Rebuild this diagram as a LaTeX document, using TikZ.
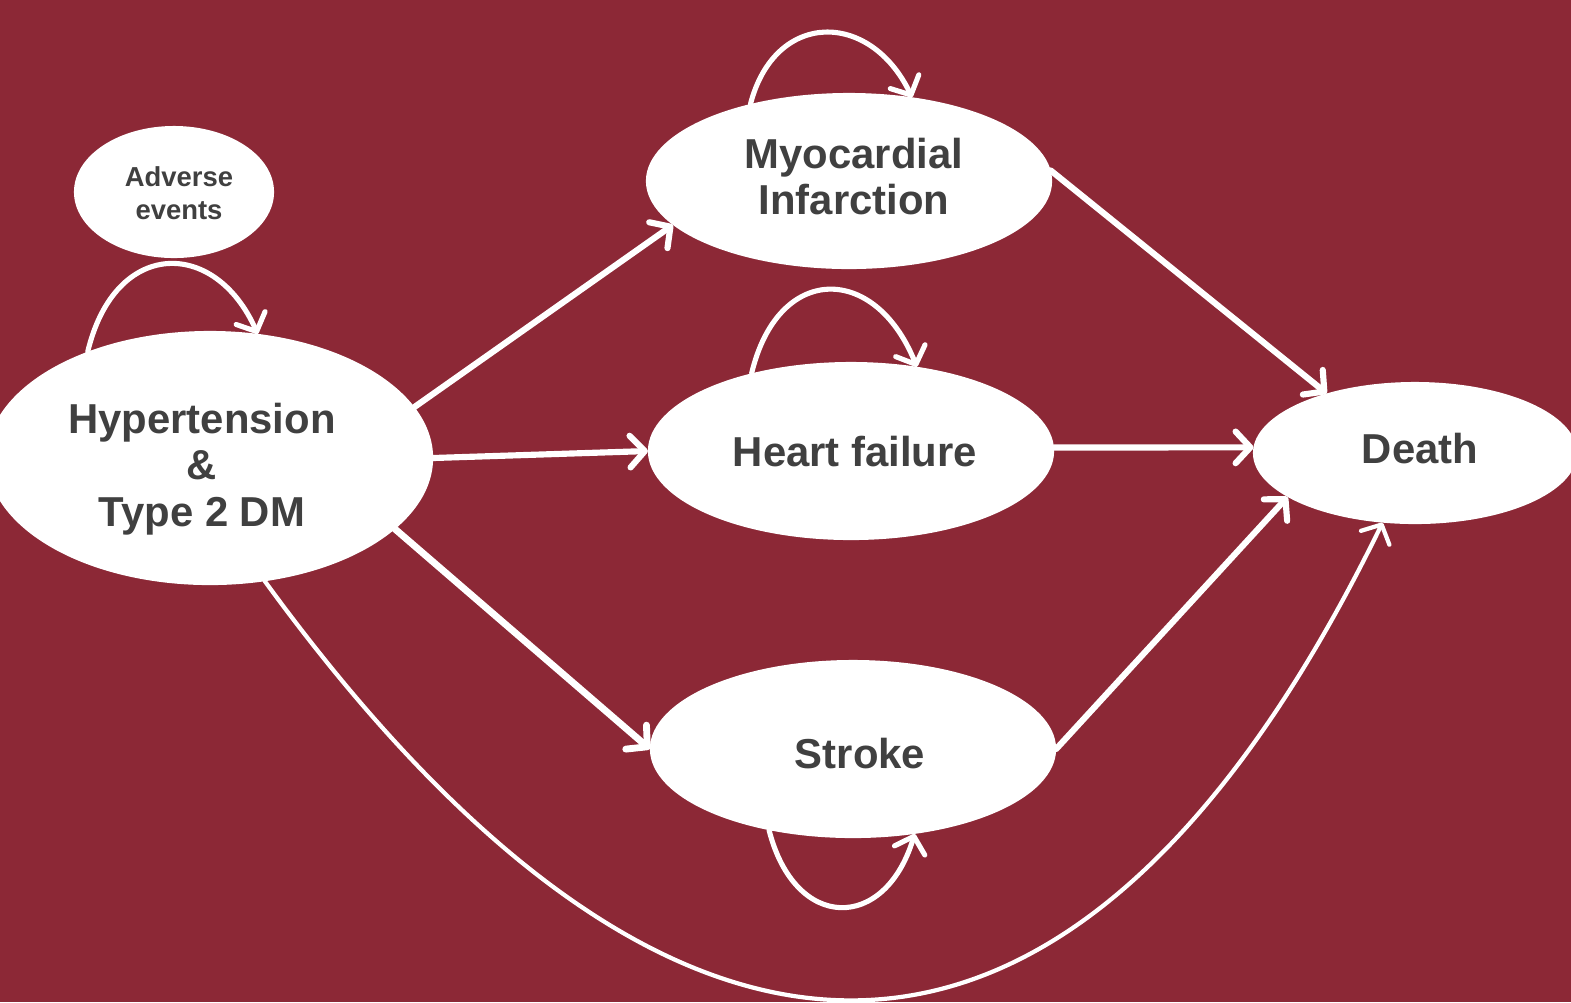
\documentclass[tikz,border=0pt]{standalone}
\usepackage{fontspec}
\setmainfont{Liberation Sans}
\usetikzlibrary{arrows.meta,shapes.geometric}
\definecolor{bgred}{HTML}{8C2836}
\definecolor{txtgray}{HTML}{404040}
\begin{document}
\begin{tikzpicture}[x=0.01cm,y=-0.01cm,
  state/.style={ellipse, fill=white, draw=none, inner sep=0pt, outer sep=0pt},
  lbl/.style={inner sep=0pt, text=txtgray, align=center, font=\bfseries\fontsize{11.9}{13.3}\selectfont},
  smalllbl/.style={lbl, font=\bfseries\fontsize{7.8}{9.4}\selectfont},
  tip/.style={-{Straight Barb[length=4.2pt,width=9pt,round]}},
  conn/.style={draw=white, line width=1.75pt, line cap=round, tip},
  thinconn/.style={draw=white, line width=1.2pt, line cap=round, tip},
  selfloop/.style={draw=white, line width=1.45pt, line cap=round, tip}]
\fill[bgred] (0,0) rectangle (1571,1002);
\useasboundingbox (0,0) rectangle (1571,1002);
\clip (0,0) rectangle (1571,1002);

\node[state, minimum width=2.0cm, minimum height=1.32cm] (adv) at (174,192) {};
\node[state, minimum width=4.46cm, minimum height=2.54cm] (hyp) at (210,458) {};
\node[state, minimum width=4.06cm, minimum height=1.76cm] (mi) at (849,181) {};
\node[state, minimum width=4.06cm, minimum height=1.78cm] (hf) at (851,451) {};
\node[state, minimum width=4.06cm, minimum height=1.78cm] (st) at (853,749) {};
\node[state, minimum width=3.24cm, minimum height=1.42cm] (death) at (1415,453) {};

\node[smalllbl] (advt) at (179,193) {Adverse\\events};
\node[lbl] (hypt) at (202,469) {Hypertension\\\&\\Type 2 DM};
\node[lbl] (mit) at (854,176.5) {Myocardial\\Infarction};
\node[lbl] (hft) at (855,452) {Heart failure};
\node[lbl] (stt) at (860,754) {Stroke};
\node[lbl] (deatht) at (1420,449) {Death};

\draw[conn] (hyp.14) -- (mi.194);
\draw[conn] (hyp.east) -- (hf.west);
\draw[conn, line width=1.95pt] (hyp.-21) -- (st.west);
\draw[conn] (mi.3) -- (death.146);
\draw[conn] (hf.1) -- (death.178);
\draw[conn] (st.east) -- (death.199);
\draw[thinconn] (hyp.-66) .. controls (677,1147) and (1076,1151) .. (death.245);

\draw[selfloop] (hyp.139) .. controls (115,238) and (215,238) .. (hyp.69);
\draw[selfloop] (mi.142) .. controls (775,10) and (870,10) .. (mi.53);
\draw[selfloop] (hf.142) .. controls (778,263) and (875,263) .. (hf.52);
\draw[selfloop] (st.224) .. controls (795,932) and (885,932) .. (st.-54);
\end{tikzpicture}
\end{document}
